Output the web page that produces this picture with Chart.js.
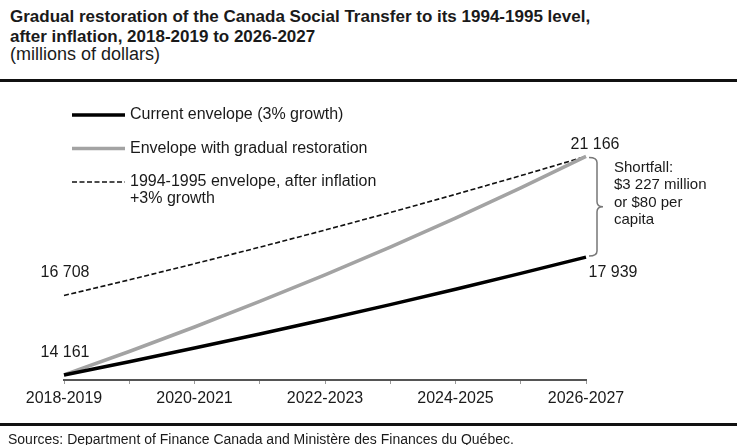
<!DOCTYPE html>
<html>
<head>
<meta charset="utf-8">
<script src="https://cdn.jsdelivr.net/npm/chart.js@4/dist/chart.umd.min.js"></script>
<style>
  html, body { margin: 0; padding: 0; background: #fff; }
  body { width: 737px; height: 445px; position: relative; overflow: hidden;
         font-family: "Liberation Sans", Arial, sans-serif; color: #1a1a1a; }
  #title { position: absolute; left: 10px; top: 7px; font-weight: bold; font-size: 17px; line-height: 19.5px; }
  #subtitle { position: absolute; left: 10px; top: 44px; font-size: 18px; line-height: 20px; }
  .rule { position: absolute; left: 0; width: 737px; height: 3px; background: #111; }
  #sources { position: absolute; left: 8px; top: 431px; font-size: 14px; line-height: 16px; }
  #chart { position: absolute; left: 0; top: 0; }
</style>
</head>
<body>
<div id="title">Gradual restoration of the Canada Social Transfer to its 1994-1995 level,<br>after inflation, 2018-2019 to 2026-2027</div>
<div id="subtitle">(millions of dollars)</div>
<div class="rule" style="top:79px"></div>
<canvas id="chart" width="737" height="445"></canvas>
<div class="rule" style="top:423px"></div>
<div id="sources">Sources: Department of Finance Canada and Ministère des Finances du Québec.</div>
<script>
// Fiscal years on the horizontal axis
const years = ['2018-2019', '2019-2020', '2020-2021', '2021-2022', '2022-2023',
               '2023-2024', '2024-2025', '2025-2026', '2026-2027'];
// Only every second fiscal year is labelled
const tickLabels = ['2018-2019', '', '2020-2021', '', '2022-2023', '', '2024-2025', '', '2026-2027'];

// Envelopes, millions of dollars
const currentEnvelope   = [14161, 14586, 15023, 15474, 15938, 16416, 16909, 17416, 17939];
const restoredEnvelope  = [14161, 14914, 15699, 16518, 17372, 18262, 19190, 20157, 21166];
const envelope1994      = [16708, 17209, 17726, 18257, 18805, 19369, 19950, 20549, 21166];

const seriesNames = [
  ['Current envelope (3% growth)'],
  ['Envelope with gradual restoration'],
  ['1994-1995 envelope, after inflation', '+3% growth']
];

const shortfallText = ['Shortfall:', '$3 227 million', 'or $80 per', 'capita'];

const FONT = '"Liberation Sans", Arial, sans-serif';
const fmt = v => String(v).replace(/\B(?=(\d{3})+(?!\d))/g, ' ');

const annotations = {
  id: 'annotations',
  afterDraw(chart) {
    const ctx = chart.ctx;
    const xs = chart.scales.x, ys = chart.scales.y;
    const last = years.length - 1;
    ctx.save();
    ctx.fillStyle = '#1a1a1a';
    ctx.font = '16px ' + FONT;
    ctx.textBaseline = 'middle';
    ctx.textAlign = 'center';

    // value labels at both ends
    const x0 = xs.getPixelForValue(0), xN = xs.getPixelForValue(last);
    ctx.fillText(fmt(envelope1994[0]), x0 + 1, ys.getPixelForValue(envelope1994[0]) - 23);
    ctx.fillText(fmt(currentEnvelope[0]), x0 + 1, ys.getPixelForValue(currentEnvelope[0]) - 22);
    ctx.fillText(fmt(restoredEnvelope[last]), xN + 9, ys.getPixelForValue(restoredEnvelope[last]) - 12);
    ctx.fillText(fmt(currentEnvelope[last]), xN + 27, ys.getPixelForValue(currentEnvelope[last]) + 15);

    // curly brace spanning the shortfall
    const yTop = ys.getPixelForValue(restoredEnvelope[last]) + 1;
    const yBot = ys.getPixelForValue(currentEnvelope[last]) - 1;
    const yMid = (yTop + yBot) / 2;
    const bx = xN + 11, r = 5;
    ctx.strokeStyle = '#777';
    ctx.lineWidth = 1.5;
    ctx.beginPath();
    ctx.moveTo(bx - 8, yTop);
    ctx.quadraticCurveTo(bx, yTop, bx, yTop + r);
    ctx.lineTo(bx, yMid - r);
    ctx.quadraticCurveTo(bx, yMid, bx + 6, yMid);
    ctx.quadraticCurveTo(bx, yMid, bx, yMid + r);
    ctx.lineTo(bx, yBot - r);
    ctx.quadraticCurveTo(bx, yBot, bx - 8, yBot);
    ctx.stroke();

    // shortfall note
    ctx.textAlign = 'left';
    ctx.font = '15px ' + FONT;
    shortfallText.forEach((t, i) => ctx.fillText(t, xN + 28, yTop + 10 + i * 17.5));

    // legend
    ctx.font = '16px ' + FONT;
    const rows = [115, 148.5, 182];
    chart.data.datasets.forEach((ds, i) => {
      const y = rows[i];
      ctx.strokeStyle = ds.borderColor;
      ctx.lineWidth = ds.borderWidth;
      ctx.setLineDash(ds.borderDash || []);
      ctx.beginPath();
      ctx.moveTo(72, y);
      ctx.lineTo(125, y);
      ctx.stroke();
      ctx.setLineDash([]);
      ds.label.forEach((line, j) => ctx.fillText(line, 130, y + j * 17));
    });
    ctx.restore();
  }
};

new Chart(document.getElementById('chart'), {
  type: 'line',
  data: {
    labels: years,
    datasets: [
      { label: seriesNames[0], data: currentEnvelope, borderColor: '#000', borderWidth: 3.5 },
      { label: seriesNames[1], data: restoredEnvelope, borderColor: '#a3a3a3', borderWidth: 3.5 },
      { label: seriesNames[2], data: envelope1994, borderColor: '#111', borderWidth: 1.6, borderDash: [5, 2.5] }
    ]
  },
  options: {
    responsive: false,
    animation: false,
    devicePixelRatio: 1,
    layout: { padding: { left: 64, right: 151, top: 146, bottom: 35 } },
    elements: { point: { radius: 0 }, line: { tension: 0, borderCapStyle: 'butt' } },
    plugins: { legend: { display: false }, tooltip: { enabled: false } },
    scales: {
      y: { display: false, min: 14000, max: 21500 },
      x: {
        offset: false,
        afterFit: scale => { scale.height = 30; },
        border: { color: '#555', width: 2 },
        grid: { drawOnChartArea: false, drawTicks: true, tickLength: 4, color: '#999' },
        ticks: {
          autoSkip: false, maxRotation: 0, padding: 5,
          color: '#1a1a1a', font: { family: FONT, size: 16 },
          callback: (v, i) => tickLabels[i]
        }
      }
    }
  },
  plugins: [annotations]
});
</script>
</body>
</html>
